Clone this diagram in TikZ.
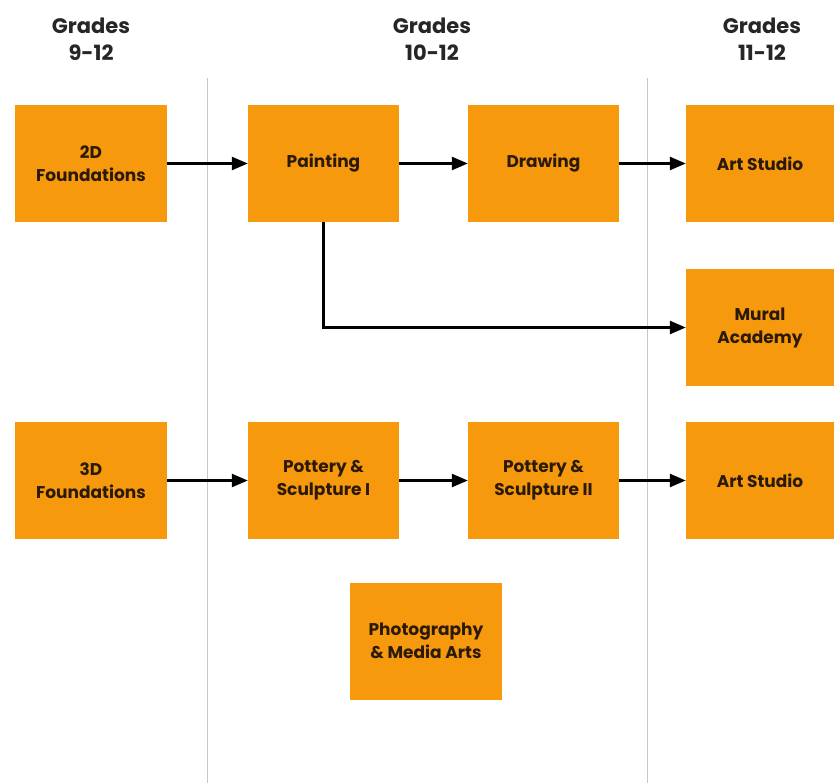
\documentclass[tikz,border=0pt]{standalone}
\usepackage{fontspec}
\setmainfont{Poppins}
\usetikzlibrary{arrows.meta}
\definecolor{boxorange}{HTML}{F7990C}
\definecolor{boxtext}{HTML}{2B1A08}
\definecolor{divider}{HTML}{C8C8C8}
\tikzset{
  course/.style={fill=boxorange, draw=none, minimum width=151pt, minimum height=117pt,
    inner sep=0pt, align=center, text=boxtext,
    font=\fontsize{17pt}{23pt}\selectfont\bfseries},
  header/.style={align=center, text=black!85, font=\fontsize{21pt}{27pt}\selectfont\bfseries},
  flow/.style={line width=2.4pt, -{Triangle[length=16pt,width=13pt]}},
  divline/.style={divider, line width=1pt}
}
\begin{document}
\begin{tikzpicture}[x=1pt,y=-1pt]
\useasboundingbox (0,0) rectangle (834,783);
\fill[white] (0,0) rectangle (834,783);
\coordinate (d1t) at (207,78);
\coordinate (d1b) at (207,783);
\coordinate (d2t) at (647,78);
\coordinate (d2b) at (647,783);
\draw[divline] (d1t) -- (d1b);
\draw[divline] (d2t) -- (d2b);

\node[header] (h1) at (91,39) {Grades\\9-12};
\node[header] (h2) at (432,39) {Grades\\10-12};
\node[header] (h3) at (762,39) {Grades\\11-12};

\node[course, minimum width=152pt] (f2d) at (91,163.5) {2D\\Foundations};
\node[course] (paint) at (323.5,163.5) {Painting};
\node[course] (drawc) at (543.5,163.5) {Drawing};
\node[course, minimum width=148pt] (art1) at (760,163.5) {Art Studio};
\node[course, minimum width=148pt] (mural) at (760,327.5) {Mural\\Academy};
\node[course, minimum width=152pt] (f3d) at (91,480.5) {3D\\Foundations};
\node[course] (pot1) at (323.5,480.5) {Pottery \&\\Sculpture I};
\node[course] (pot2) at (543.5,480.5) {Pottery \&\\Sculpture II};
\node[course, minimum width=148pt] (art2) at (760,480.5) {Art Studio};
\node[course, minimum width=152pt] (photo) at (426,641) {Photography\\\& Media Arts};

\draw[flow] (f2d) -- (paint);
\draw[flow] (paint) -- (drawc);
\draw[flow] (drawc) -- (art1);
\draw[flow] (paint.south) |- (mural.west);
\draw[flow] (f3d) -- (pot1);
\draw[flow] (pot1) -- (pot2);
\draw[flow] (pot2) -- (art2);
\end{tikzpicture}
\end{document}
